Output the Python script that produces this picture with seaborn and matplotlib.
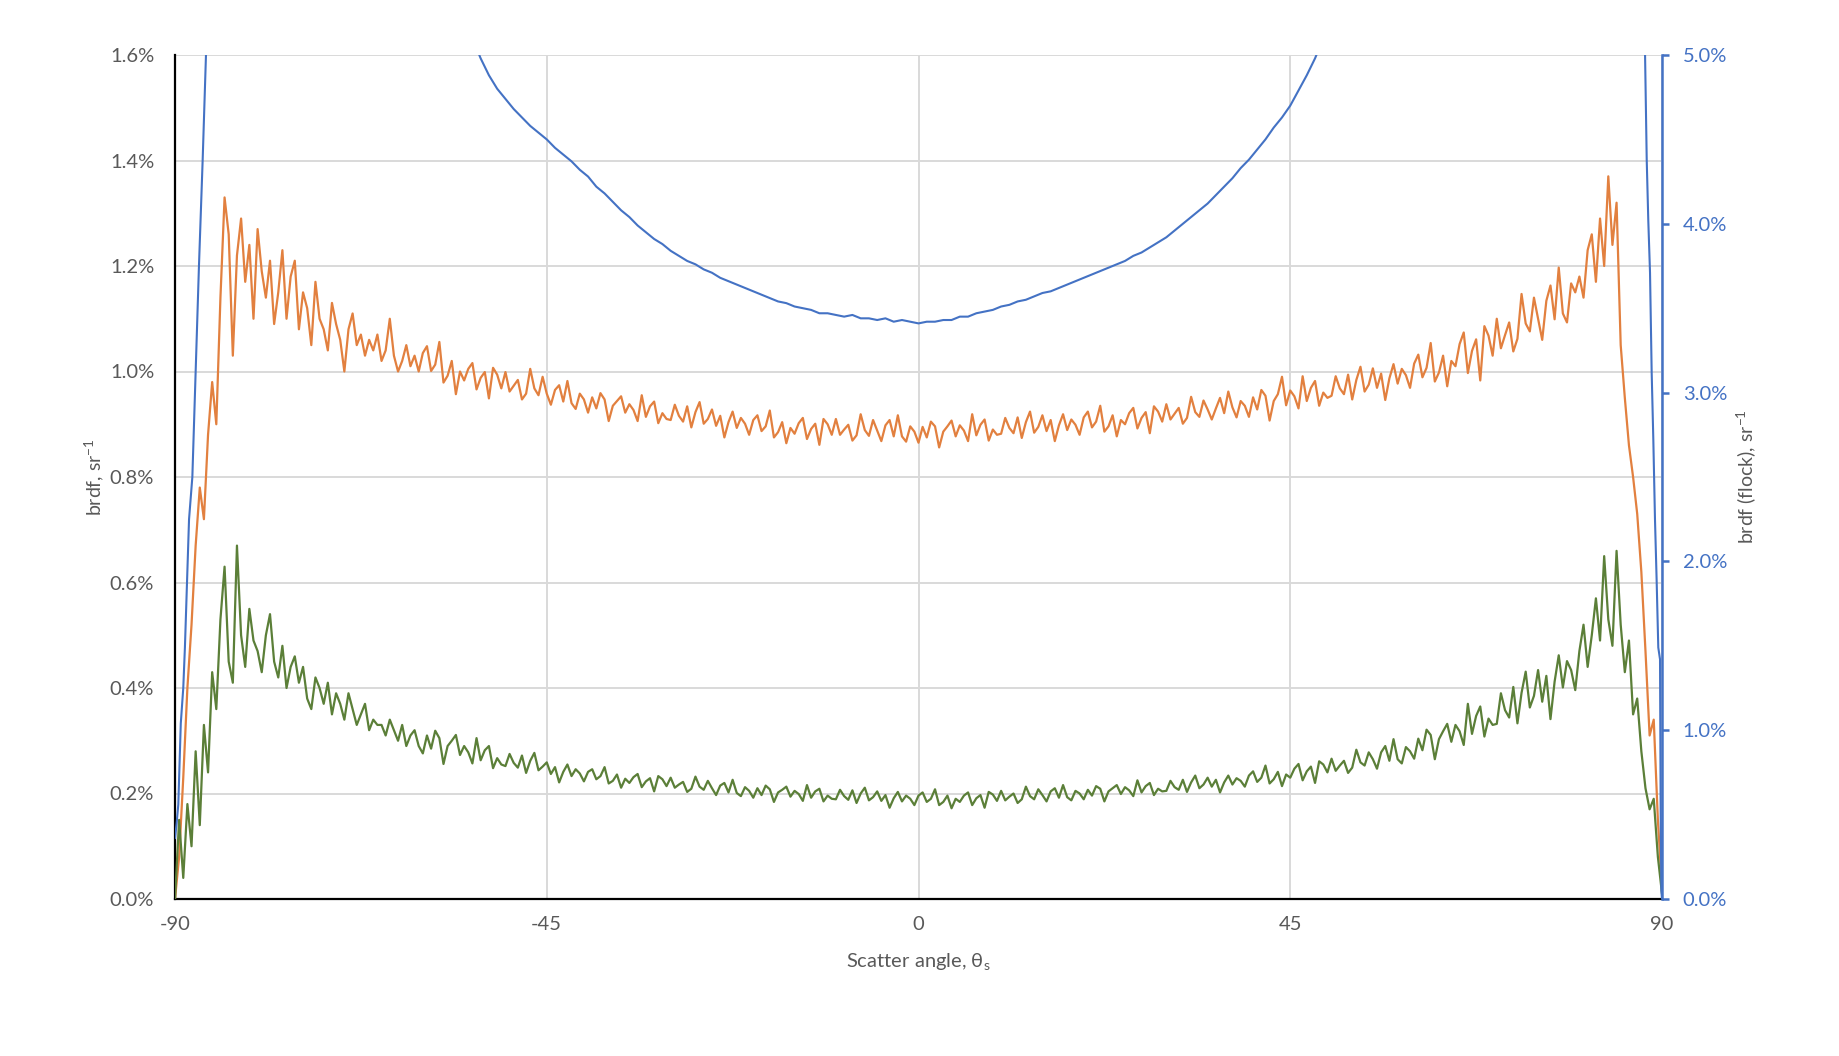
import numpy as np
import matplotlib
matplotlib.use("Agg")
import matplotlib.pyplot as plt
import seaborn as sns
from matplotlib.ticker import FuncFormatter, FixedLocator

# ---------------- data (values in percent) ----------------
# common angle grid for the two left-axis series: -90 .. 90 every 0.5 degree
angles = np.linspace(-90, 90, 361)

orange = [
    0.00, 0.08, 0.23, 0.40, 0.52, 0.67, 0.78, 0.72, 0.88, 0.98,
    0.90, 1.14, 1.33, 1.26, 1.03, 1.22, 1.29, 1.17, 1.24, 1.10,
    1.27, 1.19, 1.14, 1.21, 1.09, 1.15, 1.23, 1.10, 1.18, 1.21,
    1.08, 1.15, 1.12, 1.05, 1.17, 1.10, 1.08, 1.04, 1.13, 1.09,
    1.06, 1.00, 1.08, 1.11, 1.05, 1.07, 1.03, 1.06, 1.04, 1.07,
    1.02, 1.04, 1.10, 1.03, 1.00, 1.02, 1.05, 1.01, 1.03, 1.00,
    1.035, 1.048, 1.001, 1.013, 1.056, 0.979, 0.992, 1.020, 0.957, 1.000,
    0.983, 1.005, 1.016, 0.966, 0.988, 0.999, 0.949, 1.007, 0.994, 0.968,
    0.999, 0.962, 0.973, 0.984, 0.947, 0.958, 1.005, 0.968, 0.955, 0.990,
    0.958, 0.937, 0.965, 0.974, 0.943, 0.982, 0.940, 0.929, 0.958, 0.947,
    0.922, 0.951, 0.930, 0.959, 0.947, 0.906, 0.935, 0.944, 0.953, 0.922,
    0.938, 0.927, 0.906, 0.955, 0.914, 0.934, 0.943, 0.902, 0.921, 0.910,
    0.908, 0.937, 0.916, 0.905, 0.934, 0.894, 0.923, 0.942, 0.901, 0.910,
    0.928, 0.897, 0.916, 0.875, 0.904, 0.924, 0.893, 0.912, 0.901, 0.880,
    0.908, 0.917, 0.887, 0.896, 0.926, 0.875, 0.885, 0.904, 0.864, 0.893,
    0.882, 0.902, 0.912, 0.872, 0.891, 0.901, 0.861, 0.910, 0.900, 0.880,
    0.910, 0.880, 0.890, 0.899, 0.869, 0.879, 0.919, 0.889, 0.878, 0.908,
    0.888, 0.868, 0.898, 0.908, 0.877, 0.917, 0.877, 0.867, 0.896, 0.886,
    0.865, 0.895, 0.875, 0.905, 0.896, 0.856, 0.886, 0.896, 0.907, 0.877,
    0.898, 0.888, 0.868, 0.919, 0.879, 0.899, 0.909, 0.869, 0.890, 0.880,
    0.882, 0.912, 0.893, 0.883, 0.913, 0.874, 0.904, 0.924, 0.884, 0.895,
    0.917, 0.887, 0.908, 0.868, 0.898, 0.919, 0.889, 0.909, 0.899, 0.880,
    0.913, 0.924, 0.894, 0.905, 0.935, 0.886, 0.896, 0.917, 0.877, 0.908,
    0.900, 0.921, 0.931, 0.892, 0.912, 0.923, 0.883, 0.934, 0.924, 0.905,
    0.938, 0.909, 0.920, 0.931, 0.901, 0.912, 0.952, 0.923, 0.914, 0.945,
    0.928, 0.909, 0.930, 0.950, 0.921, 0.962, 0.932, 0.913, 0.944, 0.935,
    0.914, 0.951, 0.928, 0.965, 0.954, 0.907, 0.944, 0.957, 0.990, 0.936,
    0.964, 0.953, 0.930, 0.991, 0.944, 0.969, 0.982, 0.935, 0.960, 0.950,
    0.954, 0.991, 0.968, 0.957, 0.994, 0.947, 0.984, 1.009, 0.962, 0.975,
    1.006, 0.969, 0.996, 0.946, 0.987, 1.014, 0.977, 1.005, 0.993, 0.969,
    1.015, 1.032, 0.989, 1.007, 1.054, 0.981, 0.998, 1.030, 0.972, 1.020,
    1.010, 1.052, 1.074, 0.997, 1.039, 1.061, 0.983, 1.086, 1.068, 1.030,
    1.100, 1.044, 1.069, 1.093, 1.038, 1.062, 1.147, 1.091, 1.076, 1.140,
    1.100, 1.060, 1.134, 1.163, 1.099, 1.197, 1.110, 1.093, 1.167, 1.150,
    1.18, 1.14, 1.23, 1.26, 1.17, 1.29, 1.20, 1.37, 1.24, 1.32,
    1.05, 0.95, 0.86, 0.80, 0.73, 0.62, 0.47, 0.31, 0.34, 0.15,
    0.02,
]

green = [
    0.00, 0.15, 0.04, 0.18, 0.10, 0.28, 0.14, 0.33, 0.24, 0.43,
    0.36, 0.53, 0.63, 0.45, 0.41, 0.67, 0.50, 0.44, 0.55, 0.49,
    0.47, 0.43, 0.50, 0.54, 0.45, 0.42, 0.48, 0.40, 0.44, 0.46,
    0.41, 0.44, 0.38, 0.36, 0.42, 0.40, 0.37, 0.41, 0.35, 0.39,
    0.37, 0.34, 0.39, 0.36, 0.33, 0.35, 0.37, 0.32, 0.34, 0.33,
    0.33, 0.31, 0.34, 0.32, 0.30, 0.33, 0.29, 0.31, 0.32, 0.29,
    0.276, 0.310, 0.285, 0.319, 0.305, 0.256, 0.290, 0.300, 0.311, 0.273,
    0.290, 0.278, 0.257, 0.305, 0.263, 0.282, 0.290, 0.248, 0.267, 0.255,
    0.252, 0.275, 0.258, 0.249, 0.272, 0.239, 0.262, 0.277, 0.244, 0.251,
    0.259, 0.237, 0.250, 0.221, 0.241, 0.255, 0.233, 0.246, 0.238, 0.223,
    0.241, 0.246, 0.227, 0.233, 0.250, 0.219, 0.224, 0.236, 0.211, 0.228,
    0.220, 0.231, 0.237, 0.212, 0.223, 0.229, 0.204, 0.233, 0.227, 0.214,
    0.230, 0.211, 0.217, 0.222, 0.203, 0.209, 0.232, 0.213, 0.207, 0.224,
    0.210, 0.197, 0.215, 0.220, 0.202, 0.226, 0.201, 0.195, 0.212, 0.205,
    0.192, 0.210, 0.197, 0.215, 0.208, 0.184, 0.202, 0.207, 0.213, 0.194,
    0.205, 0.199, 0.186, 0.216, 0.192, 0.204, 0.209, 0.185, 0.196, 0.190,
    0.189, 0.207, 0.195, 0.188, 0.206, 0.182, 0.200, 0.211, 0.187, 0.193,
    0.204, 0.186, 0.197, 0.173, 0.191, 0.203, 0.185, 0.196, 0.190, 0.178,
    0.196, 0.202, 0.184, 0.190, 0.208, 0.178, 0.184, 0.196, 0.172, 0.190,
    0.184, 0.196, 0.202, 0.178, 0.191, 0.197, 0.173, 0.203, 0.198, 0.186,
    0.205, 0.187, 0.194, 0.200, 0.182, 0.189, 0.213, 0.195, 0.189, 0.208,
    0.197, 0.185, 0.204, 0.210, 0.192, 0.216, 0.193, 0.187, 0.205, 0.200,
    0.189, 0.207, 0.196, 0.214, 0.209, 0.185, 0.204, 0.210, 0.216, 0.199,
    0.212, 0.206, 0.195, 0.225, 0.202, 0.214, 0.220, 0.197, 0.209, 0.204,
    0.205, 0.224, 0.212, 0.207, 0.226, 0.203, 0.221, 0.234, 0.210, 0.217,
    0.230, 0.213, 0.226, 0.202, 0.221, 0.234, 0.217, 0.229, 0.224, 0.213,
    0.234, 0.242, 0.222, 0.230, 0.253, 0.219, 0.227, 0.241, 0.214, 0.236,
    0.230, 0.247, 0.256, 0.225, 0.242, 0.251, 0.220, 0.261, 0.255, 0.240,
    0.266, 0.243, 0.253, 0.262, 0.239, 0.249, 0.283, 0.259, 0.253, 0.278,
    0.265, 0.247, 0.278, 0.290, 0.262, 0.303, 0.265, 0.257, 0.288, 0.280,
    0.266, 0.304, 0.282, 0.321, 0.311, 0.265, 0.303, 0.318, 0.332, 0.298,
    0.330, 0.318, 0.292, 0.370, 0.313, 0.347, 0.365, 0.308, 0.342, 0.330,
    0.332, 0.390, 0.358, 0.344, 0.402, 0.333, 0.391, 0.431, 0.363, 0.385,
    0.434, 0.374, 0.423, 0.341, 0.412, 0.462, 0.401, 0.451, 0.434, 0.396,
    0.47, 0.52, 0.44, 0.50, 0.57, 0.49, 0.65, 0.53, 0.48, 0.66,
    0.52, 0.43, 0.49, 0.35, 0.38, 0.28, 0.21, 0.17, 0.19, 0.08,
    0.01,
]

# flock series (secondary axis), own angle samples
blue_angle = [
    -90, -89.8, -89.6, -89.3, -89.0, -88.8, -88.3, -87.9, -87.5, -87.1,
    -86.65, -86.25, -86, -85, -80, -70, -60, -56, -55, -54,
    -53, -52, -51, -50, -49, -48, -47, -46, -45, -44,
    -43, -42, -41, -40, -39, -38, -37, -36, -35, -34,
    -33, -32, -31, -30, -29, -28, -27, -26, -25, -24,
    -23, -22, -21, -20, -19, -18, -17, -16, -15, -14,
    -13, -12, -11, -10, -9, -8, -7, -6, -5, -4,
    -3, -2, -1, 0, 1, 2, 3, 4, 5, 6,
    7, 8, 9, 10, 11, 12, 13, 14, 15, 16,
    17, 18, 19, 20, 21, 22, 23, 24, 25, 26,
    27, 28, 29, 30, 31, 32, 33, 34, 35, 36,
    37, 38, 39, 40, 41, 42, 43, 44, 45, 46,
    47, 48, 49, 50, 55, 65, 75, 85, 87.5, 87.95,
    88.15, 88.34, 88.55, 88.75, 88.95, 89.15, 89.35, 89.55, 89.76, 89.84,
    89.92, 90,
]
blue = [
    0.36, 0.45, 0.56, 1.04, 1.25, 1.49, 2.25, 2.50, 3.13, 3.75,
    4.38, 5.00, 5.15, 5.60, 6.60, 6.90, 6.00, 5.35, 5.22, 5.10,
    4.98, 4.88, 4.80, 4.74, 4.68, 4.63, 4.58, 4.54, 4.50, 4.45,
    4.41, 4.37, 4.32, 4.28, 4.22, 4.18, 4.13, 4.08, 4.04, 3.99,
    3.95, 3.91, 3.88, 3.84, 3.81, 3.78, 3.76, 3.73, 3.71, 3.68,
    3.66, 3.64, 3.62, 3.60, 3.58, 3.56, 3.54, 3.53, 3.51, 3.50,
    3.49, 3.47, 3.47, 3.46, 3.45, 3.46, 3.44, 3.44, 3.43, 3.44,
    3.42, 3.43, 3.42, 3.41, 3.42, 3.42, 3.43, 3.43, 3.45, 3.45,
    3.47, 3.48, 3.49, 3.51, 3.52, 3.54, 3.55, 3.57, 3.59, 3.60,
    3.62, 3.64, 3.66, 3.68, 3.70, 3.72, 3.74, 3.76, 3.78, 3.81,
    3.83, 3.86, 3.89, 3.92, 3.96, 4.00, 4.04, 4.08, 4.12, 4.17,
    4.22, 4.27, 4.33, 4.38, 4.44, 4.50, 4.57, 4.63, 4.70, 4.79,
    4.88, 4.98, 5.10, 5.22, 5.80, 6.80, 7.00, 6.00, 5.30, 5.00,
    4.38, 4.02, 3.71, 3.12, 2.72, 2.25, 1.89, 1.49, 1.42, 0.51,
    0.05, 0.00,
]

x_ticks = [-90, -45, 0, 45, 90]
left_ticks = [0.0, 0.2, 0.4, 0.6, 0.8, 1.0, 1.2, 1.4, 1.6]
right_ticks = [0, 1, 2, 3, 4, 5]

# ---------------- style ----------------
sns.set_theme(style="white")
plt.rcParams["font.family"] = ["Lato", "DejaVu Sans"]
plt.rcParams["mathtext.fontset"] = "custom"
plt.rcParams["mathtext.rm"] = "Lato"

C_BLUE = "#4472C4"
C_ORANGE = "#E2803F"
C_GREEN = "#5B7F38"
C_TEXT = "#595959"
C_GRID = "#D9D9D9"

W, H = 1840, 1056
fig = plt.figure(figsize=(W / 100, H / 100), dpi=100)
ax = fig.add_axes([175 / W, 1 - 899 / H, (1662 - 175) / W, (899 - 55) / H])

sns.lineplot(x=angles, y=orange, ax=ax, color=C_ORANGE, linewidth=1.6,
             sort=False, estimator=None, zorder=3)
sns.lineplot(x=angles, y=green, ax=ax, color=C_GREEN, linewidth=1.6,
             sort=False, estimator=None, zorder=4)

ax.set_xlim(-90, 90)
ax.set_ylim(0, 1.6)
ax.xaxis.set_major_locator(FixedLocator(x_ticks))
ax.yaxis.set_major_locator(FixedLocator(left_ticks))
ax.yaxis.set_major_formatter(FuncFormatter(lambda v, p: f"{v:.1f}%"))
ax.xaxis.set_major_formatter(FuncFormatter(lambda v, p: f"{v:.0f}"))
ax.grid(True, color=C_GRID, linewidth=1.4, zorder=0)
ax.set_axisbelow(True)
ax.tick_params(axis="y", length=0, pad=15, labelsize=14.5, labelcolor=C_TEXT)
ax.tick_params(axis="x", length=0, pad=12, labelsize=14.5, labelcolor=C_TEXT)
for side in ["top", "right"]:
    ax.spines[side].set_visible(False)
for side in ["left", "bottom"]:
    ax.spines[side].set_color("black")
    ax.spines[side].set_linewidth(1.6)

ax.set_xlabel(r"Scatter angle, θ$_{\mathregular{s}}$", fontsize=14.5, color=C_TEXT)
ax.set_ylabel(r"brdf, sr$^{\mathregular{-1}}$", fontsize=14, color=C_TEXT)
ax.xaxis.set_label_coords(0.5, -0.063)
ax.yaxis.set_label_coords(-0.046, 0.5)

ax2 = ax.twinx()
sns.lineplot(x=blue_angle, y=blue, ax=ax2, color=C_BLUE, linewidth=1.5,
             sort=False, estimator=None)
ax2.set_ylim(0, 5)
ax2.set_xlim(-90, 90)
ax2.yaxis.set_major_locator(FixedLocator(right_ticks))
ax2.yaxis.set_major_formatter(FuncFormatter(lambda v, p: f"{v:.1f}%"))
ax2.tick_params(axis="y", length=5, width=1.8, direction="out", color=C_BLUE,
                pad=10, labelsize=14.5, labelcolor=C_BLUE, right=True)
ax2.grid(False)
for side in ["top", "left", "bottom"]:
    ax2.spines[side].set_visible(False)
ax2.spines["right"].set_color(C_BLUE)
ax2.spines["right"].set_linewidth(1.8)
ax2.set_ylabel(r"brdf (flock), sr$^{\mathregular{-1}}$", fontsize=14, color=C_TEXT)
ax2.yaxis.set_label_coords(1.049, 0.5)

fig.savefig("out.png", dpi=100)
